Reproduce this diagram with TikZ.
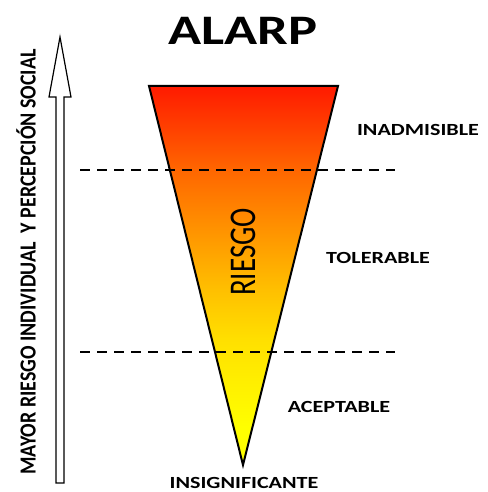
\documentclass[tikz,border=0pt]{standalone}
\usepackage{fontspec}
\setmainfont{Carlito}
\usepackage{tikz}
\usetikzlibrary{positioning}
\definecolor{rojo}{HTML}{FF1A00}
\definecolor{naranja}{HTML}{FF6600}
\definecolor{ambar}{HTML}{FFC000}
\definecolor{oro}{HTML}{FFE000}
\definecolor{amarillo}{HTML}{FFFF00}
\pgfdeclareverticalshading{riesgoshade}{100bp}{color(0bp)=(amarillo); color(25bp)=(amarillo); color(30bp)=(amarillo); color(41.5bp)=(oro); color(48bp)=(ambar); color(64bp)=(naranja); color(75bp)=(rojo); color(100bp)=(rojo)}
\tikzstyle{zona} = [font=\bfseries\fontsize{17}{17}\selectfont, xscale=1.3, inner sep=0pt]
\tikzstyle{limite} = [line width=2pt, dash pattern=on 10pt off 7pt]
\tikzstyle{embudo} = [draw=black, line width=2pt, line join=miter, shading=riesgoshade]

\begin{document}
\begin{tikzpicture}[x=1pt, y=-1pt]
                                \useasboundingbox (0,0) rectangle (487,492);
                                % triangulo
                                \coordinate (ti) at (149,86);
                                \coordinate (td) at (338,86);
                                \coordinate (vert) at (243,465);
                                \path [embudo] (ti) -- (td) -- (vert) -- cycle;
                                % limites
                                \coordinate (l1a) at (80,170);
                                \coordinate (l1b) at (395,170);
                                \coordinate (l2a) at (80,352);
                                \coordinate (l2b) at (395,352);
                                \draw [limite] (l1a) -- (l1b);
                                \draw [limite] (l2a) -- (l2b);
                                % flecha
                                \draw [line width=1.2pt, fill=white] (56,483) -- (56,97) -- (49,97) -- (60,37) -- (71,97) -- (64,97) -- (64,483) -- cycle;
                                % textos
                                \node (titulo) [font=\bfseries\fontsize{42}{42}\selectfont, xscale=1.3, inner sep=0pt] at (243,31) {ALARP};
                                \node (inadm) [zona] at (418,130) {INADMISIBLE};
                                \node (toler) [zona] at (378,258) {TOLERABLE};
                                \node (acept) [zona] at (339,407) {ACEPTABLE};
                                \node (insig) [zona] at (244,483) {INSIGNIFICANTE};
                                \node (riesgo) [font=\fontsize{29}{29}\selectfont, xscale=1.3, rotate=90, inner sep=0pt] at (243,252) {RIESGO};
                                \node (eje) [font=\bfseries\fontsize{20}{20}\selectfont, xscale=1.15, rotate=90, inner sep=0pt] at (26,262) {MAYOR RIESGO INDIVIDUAL\ \ Y PERCEPCIÓN SOCIAL};
                            \end{tikzpicture}
\end{document}
